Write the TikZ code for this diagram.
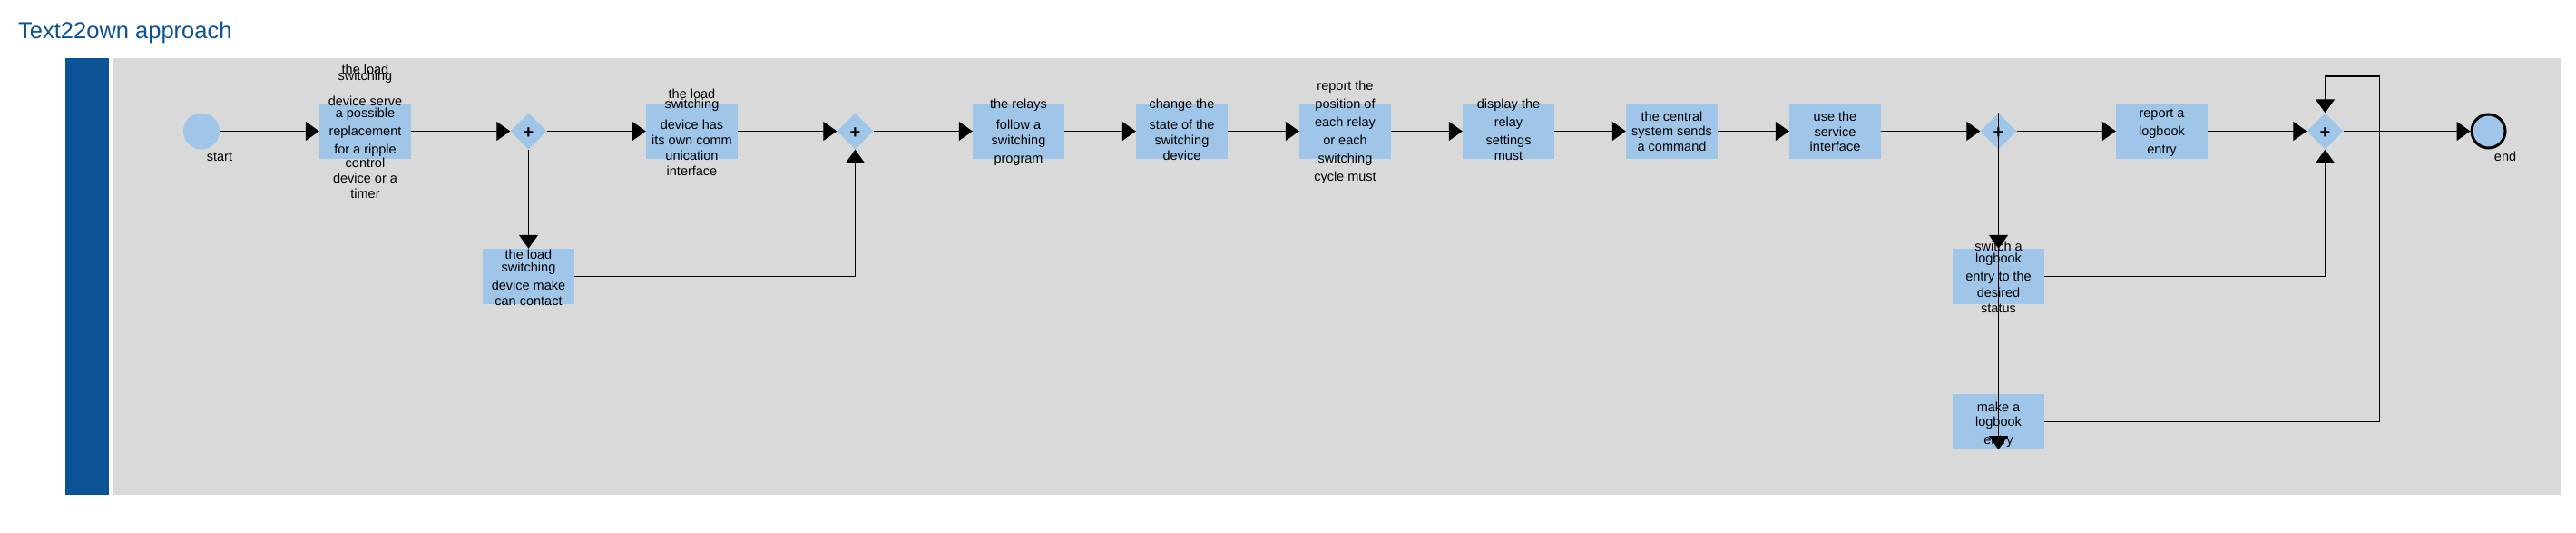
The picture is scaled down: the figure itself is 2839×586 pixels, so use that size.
\documentclass[tikz,border=0pt]{standalone}
\usepackage{fontspec}
\setmainfont{Liberation Sans}
\usetikzlibrary{shapes.geometric,arrows.meta}
\definecolor{panelgray}{HTML}{D9D9D9}
\definecolor{taskblue}{HTML}{9FC5E8}
\definecolor{darkblue}{HTML}{0B5394}
\begin{document}
\begin{tikzpicture}[x=1pt,y=-1pt,
 task/.style={rectangle,fill=taskblue,minimum width=101pt,minimum height=61pt,inner sep=0pt},
 gw/.style={diamond,fill=taskblue,minimum width=40pt,minimum height=40pt,inner sep=0pt},
 plus/.style={inner sep=0pt,font=\bfseries\fontsize{20pt}{20pt}\selectfont},
 txt/.style={inner sep=0pt,text height=10pt,text depth=0pt,font=\fontsize{14.5pt}{17pt}\selectfont},
 flow/.style={line width=1.3pt,-{Triangle[length=15pt,width=21pt]}},
 plain/.style={line width=1.3pt}
]
\useasboundingbox (0,0) rectangle (2839,586);
\fill[white] (0,0) rectangle (2839,586);
% title
\node[anchor=base west,inner sep=0pt,text=darkblue,font=\fontsize{25.5pt}{28pt}\selectfont] (title) at (20,43) {Text22own approach};
% lane
\fill[darkblue] (72,64) rectangle (120,545);
\fill[panelgray] (125,64) rectangle (2822,545);
% events
\node[circle,fill=taskblue,minimum size=40pt,inner sep=0pt] (s) at (222,144.5) {};
\node[circle,fill=taskblue,draw=black,line width=3pt,minimum size=37pt,inner sep=0pt] (e) at (2742.5,144.5) {};
\node[txt] (slab) at (242,172.3) {start};
\node[txt] (elab) at (2761,172.3) {end};
% tasks
\node[task] (t1) at (402.5,144.5) {};
\node[task] (t2) at (762.5,144.5) {};
\node[task] (t3) at (582.5,304.5) {};
\node[task] (t4) at (1122.5,144.5) {};
\node[task] (t5) at (1302.5,144.5) {};
\node[task] (t6) at (1482.5,144.5) {};
\node[task] (t7) at (1662.5,144.5) {};
\node[task] (t8) at (1842.5,144.5) {};
\node[task] (t9) at (2022.5,144.5) {};
\node[task] (t10) at (2382.5,144.5) {};
\node[task] (t11) at (2202.5,304.5) {};
\node[task] (t12) at (2202.5,464.5) {};
% gateways
\node[gw] (g1) at (582.5,144.5) {};
\node[gw] (g2) at (942.5,144.5) {};
\node[gw] (g3) at (2202.5,144.5) {};
\node[gw] (g4) at (2562.5,144.5) {};
\foreach \g in {g1,g2,g3,g4} \node[plus] (\g p) at ([yshift=-2pt]\g.center) {+};
% task texts
\foreach \yy/\tx [count=\i] in {76.7/the load, 83.3/switching, 111/device serve, 124.3/a possible, 144.3/replacement, 164.3/for a ripple, 179.3/control, 196.7/device or a, 213.3/timer}
  \node[txt] (t1l\i) at (402.5,\yy) {\tx};
\foreach \yy/\tx [count=\i] in {103.3/the load, 114.3/switching, 137.3/device has, 154.3/its own comm, 171/unication, 188.3/interface}
  \node[txt] (t2l\i) at (762.5,\yy) {\tx};
\foreach \yy/\tx [count=\i] in {280/the load, 294.3/switching, 314.3/device make, 331/can contact}
  \node[txt] (t3l\i) at (582.5,\yy) {\tx};
\foreach \yy/\tx [count=\i] in {114.3/the relays, 137.3/follow a, 154.3/switching, 174.3/program}
  \node[txt] (t4l\i) at (1122.5,\yy) {\tx};
\foreach \yy/\tx [count=\i] in {114.3/change the, 137.3/state of the, 154.3/switching, 171/device}
  \node[txt] (t5l\i) at (1302.5,\yy) {\tx};
\foreach \yy/\tx [count=\i] in {94.3/report the, 114.3/position of, 134.3/each relay, 154.3/or each, 174.3/switching, 194.3/cycle must}
  \node[txt] (t6l\i) at (1482.5,\yy) {\tx};
\foreach \yy/\tx [count=\i] in {114.3/display the, 134.3/relay, 154.3/settings, 171/must}
  \node[txt] (t7l\i) at (1662.5,\yy) {\tx};
\foreach \yy/\tx [count=\i] in {128.3/the central, 144.3/system sends, 161.7/a command}
  \node[txt] (t8l\i) at (1842.5,\yy) {\tx};
\foreach \yy/\tx [count=\i] in {128.3/use the, 145/service, 161.7/interface}
  \node[txt] (t9l\i) at (2022.5,\yy) {\tx};
\foreach \yy/\tx [count=\i] in {124.3/report a, 144.3/logbook, 164.3/entry}
  \node[txt] (t10l\i) at (2382.5,\yy) {\tx};
\foreach \yy/\tx [count=\i] in {271/switch a, 284.3/logbook, 304.3/entry to the, 322.3/desired, 339/status}
  \node[txt] (t11l\i) at (2202.5,\yy) {\tx};
\foreach \yy/\tx [count=\i] in {448.3/make a, 464.3/logbook, 484.3/entry}
  \node[txt] (t12l\i) at (2202.5,\yy) {\tx};
% connectors
\coordinate (loop) at (2622.5,84);
\draw[flow] (s) -- (t1);
\draw[flow] (t1) -- (g1);
\draw[flow] (g1) -- (t2);
\draw[flow] (g1) -- (t3);
\draw[flow] (t2) -- (g2);
\draw[flow] (t3.east) -| (g2.south);
\draw[flow] (g2) -- (t4);
\draw[flow] (t4) -- (t5);
\draw[flow] (t5) -- (t6);
\draw[flow] (t6) -- (t7);
\draw[flow] (t7) -- (t8);
\draw[flow] (t8) -- (t9);
\draw[flow] (t9) -- (g3);
\draw[flow] (g3) -- (t10);
\draw[flow] (g3.south) -- (t11.north);
\draw[flow] (g3.north) -- (t12.south);
\draw[flow] (t10) -- (g4);
\draw[flow] (t11.east) -| (g4.south);
\draw[flow] (t12.east) -| (loop) -| (g4.north);
\draw[flow] (g4) -- (e);
\end{tikzpicture}
\end{document}
